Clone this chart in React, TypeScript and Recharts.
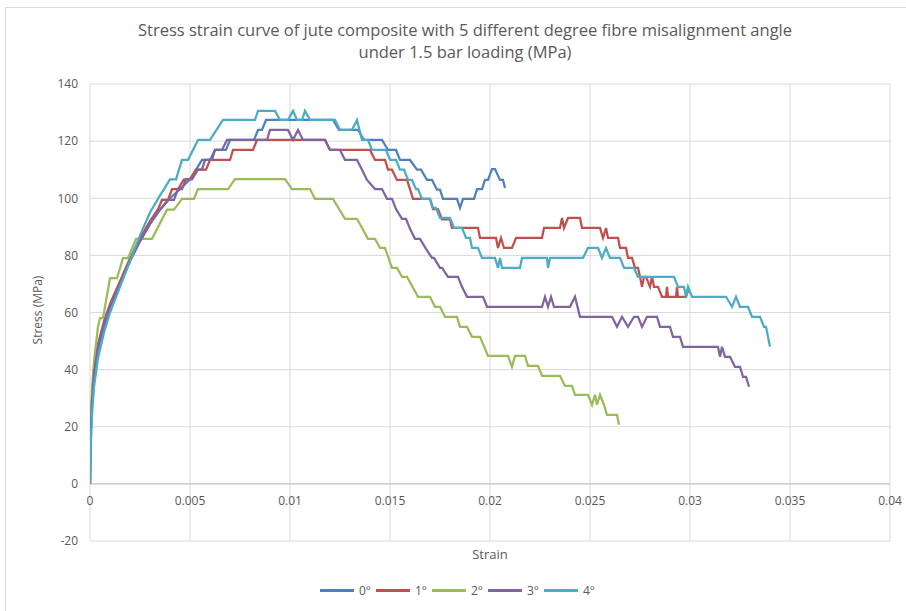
import React from "react"
import { LineChart, Line, XAxis, YAxis, CartesianGrid, ReferenceLine } from "recharts"

// strain / stress readings for each misalignment angle
const curve0: [number, number][] = [
    [0, 0], [0.00003, 15], [0.0001, 28], [0.0002, 38], [0.0004, 47], [0.0007, 55], [0.001, 62], [0.0015, 70],
    [0.002, 78], [0.0025, 85], [0.003, 91], [0.0035, 96], [0.004, 100], [0.0045, 103.2], [0.005, 106.6],
    [0.0053, 110], [0.0056, 113.4], [0.006, 113.4], [0.00625, 116.9], [0.0068, 116.9], [0.007, 120.4],
    [0.0082, 120.4], [0.0084, 123.9], [0.0086, 123.9], [0.0088, 127.4], [0.01215, 127.4], [0.01245, 123.9],
    [0.0134, 123.9], [0.0137, 120.4], [0.0146, 120.4], [0.0149, 116.9], [0.0153, 116.9], [0.0155, 113.4],
    [0.016, 113.4], [0.01635, 110], [0.01655, 110], [0.01685, 106.4], [0.0171, 106.4], [0.01735, 103],
    [0.0175, 103], [0.01765, 99.8], [0.01835, 99.8], [0.0185, 96.6], [0.01865, 99.8], [0.0192, 99.8],
    [0.01935, 103.2], [0.0196, 103.2], [0.01975, 106.4], [0.0199, 106.4], [0.0201, 110.2], [0.02025, 110.2],
    [0.0205, 106.4], [0.02065, 106.4], [0.02075, 103.6],
]

const curve1: [number, number][] = [
    [0, 0], [0.00003, 18], [0.0001, 30], [0.0002, 40], [0.0004, 49], [0.0007, 57], [0.001, 63], [0.0015, 71],
    [0.002, 79], [0.0025, 86], [0.003, 92], [0.0034, 96.2], [0.0036, 99.4], [0.0039, 99.4], [0.0041, 103.2],
    [0.0044, 103.2], [0.0047, 106.6], [0.005, 106.6], [0.0053, 110], [0.0058, 110], [0.006, 113.4],
    [0.007, 113.4], [0.00715, 116.9], [0.00815, 116.9], [0.00835, 120.4], [0.01175, 120.4], [0.012, 116.9],
    [0.014, 116.9], [0.01425, 113.4], [0.01475, 113.4], [0.0149, 110], [0.0151, 110], [0.01535, 106.4],
    [0.01585, 106.4], [0.016, 103.2], [0.01615, 99.8], [0.017, 99.8], [0.01715, 96.2], [0.0174, 96.2],
    [0.0176, 92.6], [0.018, 92.6], [0.0181, 89.6], [0.0194, 89.6], [0.0195, 86.1], [0.0203, 86.1],
    [0.0204, 82.6], [0.02055, 86.1], [0.0207, 82.6], [0.0211, 82.6], [0.0213, 86.1], [0.0226, 86.1],
    [0.0227, 89.6], [0.0235, 89.6], [0.0236, 93.1], [0.0237, 89.6], [0.0239, 93.1], [0.0245, 93.1],
    [0.0246, 89.6], [0.0255, 89.6], [0.02565, 86.1], [0.0258, 89.6], [0.0259, 86.1], [0.0264, 86.1],
    [0.0265, 82.6], [0.0268, 82.6], [0.0269, 79.1], [0.0271, 79.1], [0.02725, 75.6], [0.0274, 75.6],
    [0.0275, 72.5], [0.0276, 69], [0.0277, 72.5], [0.0278, 72.5], [0.028, 69], [0.0281, 72.5], [0.0282, 69],
    [0.0284, 69], [0.0286, 65.5], [0.0288, 65.5], [0.02885, 69], [0.0289, 65.5], [0.0293, 65.5],
    [0.02935, 69], [0.0294, 65.5], [0.0298, 65.5], [0.02995, 68.6],
]

const curve2: [number, number][] = [
    [0, 0], [0.00003, 20], [0.0001, 33], [0.0002, 43], [0.0004, 55], [0.0005, 58], [0.00065, 58], [0.001, 72],
    [0.00135, 72], [0.00165, 79], [0.0019, 79], [0.0023, 85.8], [0.0031, 85.8], [0.00385, 96], [0.0042, 96],
    [0.0046, 99.8], [0.0052, 99.8], [0.0054, 103.2], [0.0069, 103.2], [0.00725, 106.7], [0.00975, 106.7],
    [0.0101, 103.2], [0.011, 103.2], [0.01125, 99.8], [0.01215, 99.8], [0.01275, 92.8], [0.01335, 92.8],
    [0.0139, 85.8], [0.01425, 85.8], [0.0145, 82.6], [0.01475, 82.6], [0.0151, 75.6], [0.01535, 75.6],
    [0.0156, 72.5], [0.01585, 72.5], [0.0164, 65.5], [0.017, 65.5], [0.01725, 62], [0.0175, 62],
    [0.01775, 58.5], [0.01835, 58.5], [0.0185, 55], [0.01885, 55], [0.0191, 51.5], [0.0195, 51.5],
    [0.0199, 44.8], [0.0209, 44.8], [0.0211, 41], [0.02125, 44.8], [0.02175, 44.8], [0.0219, 41.3],
    [0.0224, 41.3], [0.0226, 37.8], [0.0235, 37.8], [0.02375, 34.3], [0.0241, 34.3], [0.02425, 31.2],
    [0.0249, 31.2], [0.0251, 27.7], [0.02525, 31.2], [0.02535, 27.7], [0.0255, 31.2], [0.0257, 27.7],
    [0.02585, 24.2], [0.02635, 24.2], [0.02645, 20.7],
]

const curve3: [number, number][] = [
    [0, 0], [0.00003, 16], [0.0001, 29], [0.0002, 39], [0.0004, 48], [0.0007, 56], [0.001, 62], [0.0015, 70],
    [0.002, 78], [0.0025, 85], [0.003, 91], [0.0035, 96], [0.0039, 99.4], [0.0042, 99.4], [0.0044, 103.2],
    [0.0046, 103.2], [0.0048, 106.6], [0.0051, 106.6], [0.0054, 110], [0.0056, 110], [0.00575, 113.4],
    [0.0061, 113.4], [0.00625, 116.9], [0.0066, 116.9], [0.00685, 120.4], [0.00885, 120.4], [0.009, 123.9],
    [0.0099, 123.9], [0.01015, 120.4], [0.0104, 123.9], [0.01065, 120.4], [0.01175, 120.4], [0.012, 116.9],
    [0.0125, 116.9], [0.01275, 113.4], [0.01335, 113.4], [0.0136, 110], [0.01385, 106.4], [0.01425, 103.2],
    [0.0146, 103.2], [0.01485, 99.8], [0.0151, 99.8], [0.0153, 96.2], [0.0156, 92.8], [0.0158, 92.8],
    [0.016, 89.3], [0.01625, 85.8], [0.0165, 85.8], [0.0168, 82.3], [0.0171, 79.1], [0.0172, 79.1],
    [0.0175, 75.6], [0.0176, 75.6], [0.0179, 72.5], [0.0184, 72.5], [0.0186, 69], [0.01885, 65.5],
    [0.01965, 65.5], [0.01985, 62], [0.0226, 62], [0.02275, 65.5], [0.0229, 62], [0.02305, 65.5],
    [0.0232, 62], [0.024, 62], [0.02425, 65.5], [0.0245, 58.5], [0.0261, 58.5], [0.02635, 55],
    [0.0266, 58.5], [0.0269, 55], [0.0272, 58.5], [0.0274, 58.5], [0.0276, 55], [0.02785, 58.5],
    [0.02835, 58.5], [0.0285, 55], [0.029, 55], [0.02915, 51.5], [0.0295, 51.5], [0.02965, 48],
    [0.0314, 48], [0.0315, 44.5], [0.0316, 48], [0.03175, 44.5], [0.032, 44.5], [0.03225, 41],
    [0.0325, 41], [0.03265, 37.5], [0.0328, 37.5], [0.03295, 34],
]

const curve4: [number, number][] = [
    [0, 0], [0.00003, 12], [0.0001, 24], [0.0002, 34], [0.0004, 44], [0.0007, 53], [0.001, 60], [0.0015, 69],
    [0.002, 78], [0.0025, 87], [0.003, 95], [0.0035, 101], [0.0037, 103.2], [0.004, 106.6], [0.0043, 106.6],
    [0.0046, 113.4], [0.0049, 113.4], [0.0054, 120.4], [0.006, 120.4], [0.00665, 127.4], [0.00825, 127.4],
    [0.0084, 130.6], [0.00925, 130.6], [0.0095, 127.4], [0.0099, 127.4], [0.01015, 130.6], [0.01035, 127.4],
    [0.0106, 127.4], [0.01075, 130.6], [0.011, 127.4], [0.01225, 127.4], [0.0125, 123.9], [0.0131, 123.9],
    [0.01335, 127.4], [0.0136, 120.4], [0.0139, 120.4], [0.0141, 116.9], [0.0148, 116.9], [0.015, 113.4],
    [0.0153, 113.4], [0.0155, 110], [0.0157, 110], [0.0159, 106.4], [0.0161, 106.4], [0.0163, 103.2],
    [0.0164, 103.2], [0.0166, 99.8], [0.017, 99.8], [0.01715, 96.6], [0.0173, 96.6], [0.0175, 93.1],
    [0.018, 93.1], [0.0182, 89.6], [0.0186, 89.6], [0.0188, 86.1], [0.019, 86.1], [0.0191, 82.6],
    [0.0194, 82.6], [0.0196, 79.1], [0.02025, 79.1], [0.0204, 75.6], [0.0205, 79.1], [0.0206, 75.6],
    [0.0215, 75.6], [0.0216, 79.1], [0.02285, 79.1], [0.0229, 75.6], [0.023, 79.1], [0.02465, 79.1],
    [0.0249, 82.6], [0.0254, 82.6], [0.0256, 79.1], [0.0258, 82.6], [0.026, 79.1], [0.0265, 79.1],
    [0.0267, 75.6], [0.0272, 75.6], [0.0274, 72.5], [0.0292, 72.5], [0.0294, 69], [0.0297, 69],
    [0.0298, 65.5], [0.0299, 69], [0.0301, 65.5], [0.0318, 65.5], [0.0321, 62], [0.0323, 65.5],
    [0.0325, 62], [0.0329, 62], [0.0331, 58.5], [0.0335, 58.5], [0.0337, 55], [0.0338, 55], [0.034, 48],
]

const seriesNames = ["0°", "1°", "2°", "3°", "4°"]
const seriesColors = ["#4F81BD", "#C0504D", "#9BBB59", "#8064A2", "#4BACC6"]
const curves = [curve0, curve1, curve2, curve3, curve4]

const strainTicks = [0, 0.005, 0.01, 0.015, 0.02, 0.025, 0.03, 0.035, 0.04]
const stressTicks = [-20, 0, 20, 40, 60, 80, 100, 120, 140]

const FONT = "'Open Sans', sans-serif"
const TEXT = "#595959"
// distance between the -20 gridline and the 0 line, where Excel puts the strain labels
const ZERO_GAP = 57

function StrainTick({ x, y, payload }: any) {
    return (
        <text x={x} y={y - ZERO_GAP + 10} dy="0.71em" textAnchor="middle" fill={TEXT} fontSize={12} fontFamily={FONT}>
            {payload.value}
        </text>
    )
}

export default function App() {
    const data = curves.map((c) => c.map(([x, y]) => ({ x, y })))

    return (
        <div style={{ position: "absolute", left: 0, top: 0, width: 906, height: 611, background: "#fff", overflow: "hidden" }}>
            <div style={{ position: "absolute", left: 5, top: 7, width: 920, height: 620, border: "1px solid #d9d9d9" }} />
            <div
                style={{
                    position: "absolute", left: 5, top: 19, width: 920, textAlign: "center",
                    fontFamily: FONT, fontSize: 16.5, lineHeight: "22px", color: TEXT,
                }}
            >
                Stress strain curve of jute composite with 5 different degree fibre misalignment angle
                <br />
                under 1.5 bar loading (MPa)
            </div>

            <LineChart width={906} height={611} data={data[0]} margin={{ top: 84, right: 16, bottom: 50, left: 40 }}>
                <CartesianGrid stroke="#d9d9d9" />
                <XAxis
                    type="number"
                    dataKey="x"
                    domain={[0, 0.04]}
                    ticks={strainTicks}
                    height={20}
                    axisLine={false}
                    tickLine={false}
                    tickSize={0}
                    tick={<StrainTick />}
                    allowDataOverflow
                />
                <YAxis
                    type="number"
                    domain={[-20, 140]}
                    ticks={stressTicks}
                    width={50}
                    axisLine={false}
                    tickLine={false}
                    tickSize={0}
                    tickMargin={12}
                    tick={{ fill: TEXT, fontSize: 12, fontFamily: FONT }}
                />
                <ReferenceLine y={0} stroke="#bfbfbf" />
                {data.map((d, i) => (
                    <Line
                        key={seriesNames[i]}
                        data={d}
                        dataKey="y"
                        name={seriesNames[i]}
                        type="linear"
                        stroke={seriesColors[i]}
                        strokeWidth={2.25}
                        dot={false}
                        isAnimationActive={false}
                    />
                ))}
            </LineChart>

            <div
                style={{
                    position: "absolute", left: 37, top: 310, transform: "translate(-50%, -50%) rotate(-90deg)",
                    fontFamily: FONT, fontSize: 12, color: TEXT, whiteSpace: "nowrap",
                }}
            >
                Stress (MPa)
            </div>
            <div style={{ position: "absolute", left: 490, top: 545, transform: "translateX(-50%)", fontFamily: FONT, fontSize: 13, color: TEXT }}>
                Strain
            </div>
            <div style={{ position: "absolute", left: 320, top: 582, display: "flex", alignItems: "center", fontFamily: FONT, fontSize: 12, color: TEXT }}>
                {seriesNames.map((n, i) => (
                    <div key={n} style={{ display: "flex", alignItems: "center", width: 56 }}>
                        <div style={{ width: 34, height: 2.5, background: seriesColors[i], marginRight: 5 }} />
                        <span>{n}</span>
                    </div>
                ))}
            </div>
        </div>
    )
}
